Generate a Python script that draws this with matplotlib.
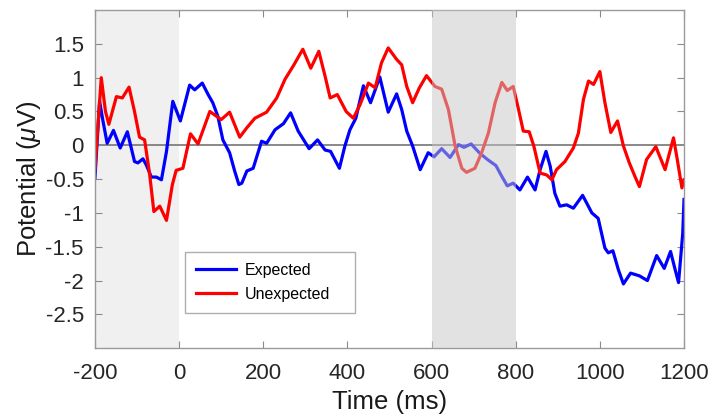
import matplotlib
matplotlib.use("Agg")
import matplotlib.pyplot as plt

# Expected (blue) series: time (ms) and potential (uV)
exp_t = [-200, -189, -181, -171, -156, -140, -123, -106, -98, -86, -78, -66, -54, -42, -30, -15, 3, 25, 37, 55,
         69, 80, 92, 104, 120, 132, 142, 149, 161, 176, 196, 208, 228, 248, 265, 283, 309, 329, 347, 360,
         381, 394, 406, 420, 438, 455, 477, 497, 517, 529, 541, 555, 573, 592, 606, 624, 644, 664, 677, 694,
         715, 735, 753, 767, 780, 794, 810, 828, 846, 858, 872, 882, 893, 905, 921, 937, 959, 981, 996, 1012,
         1020, 1031, 1044, 1056, 1073, 1094, 1113, 1135, 1153, 1168, 1179, 1187, 1197, 1200]
exp_v = [-0.48, 0.65, 0.36, 0.03, 0.22, -0.04, 0.20, -0.24, -0.26, -0.20, -0.29, -0.47, -0.47, -0.51, -0.09, 0.65, 0.36, 0.89, 0.82, 0.92,
         0.75, 0.63, 0.43, 0.08, -0.11, -0.38, -0.58, -0.56, -0.38, -0.34, 0.06, 0.03, 0.23, 0.32, 0.48, 0.21, -0.05, 0.08, -0.07, -0.09,
         -0.34, -0.01, 0.23, 0.40, 0.88, 0.63, 1.01, 0.49, 0.76, 0.53, 0.21, -0.01, -0.36, -0.11, -0.17, -0.05, -0.18, 0.01, -0.03, 0.02,
         -0.12, -0.22, -0.30, -0.46, -0.60, -0.56, -0.66, -0.47, -0.66, -0.36, -0.09, -0.31, -0.71, -0.90, -0.88, -0.93, -0.74, -1.00, -1.08, -1.52,
         -1.59, -1.56, -1.84, -2.05, -1.89, -1.93, -2.00, -1.63, -1.82, -1.57, -1.84, -2.03, -1.30, -0.80]

# Unexpected (red) series
unexp_t = [-200, -185, -175, -167, -149, -135, -119, -106, -94, -82, -70, -60, -46, -30, -16, -7, 9, 27, 45, 73,
           100, 120, 144, 161, 180, 208, 232, 252, 271, 294, 313, 332, 347, 359, 376, 397, 414, 430, 450, 466,
           481, 497, 517, 529, 541, 555, 571, 588, 608, 624, 640, 656, 672, 683, 703, 719, 735, 751, 767, 780,
           794, 806, 818, 832, 843, 858, 874, 886, 897, 917, 937, 949, 961, 973, 985, 1000, 1012, 1026, 1042, 1056,
           1070, 1084, 1094, 1111, 1133, 1155, 1175, 1184, 1195, 1200]
unexp_v = [-0.34, 1.00, 0.50, 0.31, 0.72, 0.70, 0.86, 0.50, 0.12, 0.08, -0.43, -0.98, -0.90, -1.11, -0.58, -0.37, -0.34, 0.17, 0.02, 0.50,
           0.38, 0.49, 0.12, 0.26, 0.40, 0.49, 0.70, 0.98, 1.17, 1.42, 1.14, 1.39, 1.02, 0.70, 0.75, 0.50, 0.40, 0.60, 0.92, 0.85,
           1.22, 1.44, 1.27, 1.19, 0.87, 0.63, 0.85, 1.03, 0.87, 0.83, 0.53, -0.01, -0.34, -0.40, -0.34, -0.11, 0.18, 0.63, 0.93, 0.81,
           0.87, 0.55, 0.21, 0.20, -0.01, -0.41, -0.44, -0.51, -0.36, -0.24, -0.04, 0.18, 0.68, 0.95, 0.90, 1.09, 0.63, 0.19, 0.36, -0.01,
           -0.26, -0.47, -0.61, -0.21, -0.02, -0.36, 0.11, -0.21, -0.63, -0.51]

series_labels = ["Expected", "Unexpected"]
xticks = [-200, 0, 200, 400, 600, 800, 1000, 1200]
yticks = [-2.5, -2, -1.5, -1, -0.5, 0, 0.5, 1, 1.5]
ytick_labels = ["-2.5", "-2", "-1.5", "-1", "-0.5", "0", "0.5", "1", "1.5"]
xtick_labels = ["-200", "0", "200", "400", "600", "800", "1000", "1200"]
baseline_win = (-200, 0)
late_win = (600, 800)

plt.rcParams['font.family'] = ['Liberation Sans', 'DejaVu Sans']
plt.rcParams['axes.unicode_minus'] = False
plt.rcParams['mathtext.fontset'] = 'custom'
plt.rcParams['mathtext.it'] = 'Liberation Sans:italic'
plt.rcParams['mathtext.rm'] = 'Liberation Sans'

fig = plt.figure(figsize=(7.14, 4.18), dpi=100)
ax = fig.add_axes([0.133, 0.167, 0.825, 0.809])

ax.axvspan(*baseline_win, color='#f0f0f0', zorder=0, lw=0)
ax.axhline(0, color='#7f7f7f', lw=1.3, zorder=1)
ax.plot(exp_t, exp_v, color='#0000ff', lw=2.3, label=series_labels[0], zorder=2,
        solid_joinstyle='round')
ax.plot(unexp_t, unexp_v, color='#ff0000', lw=2.3, label=series_labels[1], zorder=2,
        solid_joinstyle='round')
ax.axvspan(*late_win, color='#c6c6c6', alpha=0.5, zorder=3, lw=0)

ax.set_xlim(-200, 1200)
ax.set_ylim(-3, 2)
ax.set_xticks(xticks)
ax.set_xticklabels(xtick_labels)
ax.set_yticks(yticks)
ax.set_yticklabels(ytick_labels)
ax.tick_params(direction='in', top=True, right=True, labelsize=16, labelcolor='#262626',
               color='#8a8a8a', length=5, width=0.8)
ax.tick_params(axis='x', pad=11)
ax.tick_params(axis='y', pad=8)
for sp in ax.spines.values():
    sp.set_color('#9a9a9a')
    sp.set_linewidth(1.0)

ax.set_xlabel('Time (ms)', fontsize=18.5, color='#1a1a1a', labelpad=4)
ax.set_ylabel(r'Potential ($\mu$V)', fontsize=18.5, color='#1a1a1a', labelpad=2)

leg = ax.legend(loc='lower left', bbox_to_anchor=(0.153, 0.104, 0.289, 0.172), mode='expand',
                fontsize=11.5, frameon=True, fancybox=False, edgecolor='#9a9a9a',
                handlelength=2.5, handletextpad=0.55, borderpad=0.7, labelspacing=0.55,
                borderaxespad=0)
leg.get_frame().set_linewidth(1.0)

fig.savefig('out.png', dpi=100)
